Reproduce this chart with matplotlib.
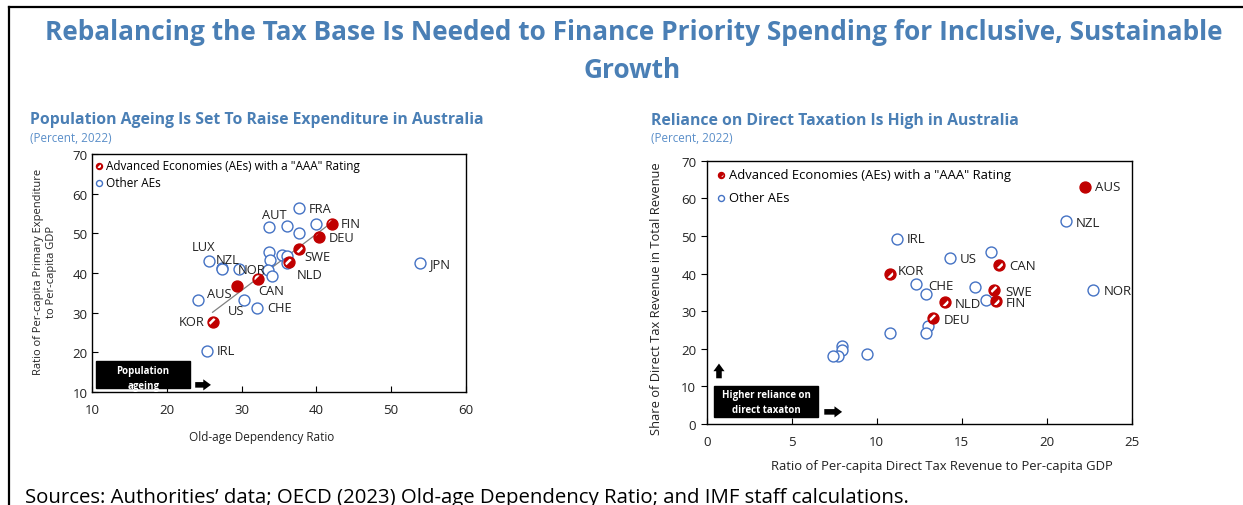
"""
Rebalancing the tax base - two scatter panels (ageing vs expenditure,
direct tax reliance) recreated with matplotlib.
"""

import matplotlib
matplotlib.use('Agg')
import matplotlib.pyplot as plt
from matplotlib.lines import Line2D
from matplotlib.patches import Rectangle

plt.rcParams['font.family'] = ['Open Sans', 'DejaVu Sans']
plt.rcParams['hatch.linewidth'] = 1.8

TITLE_BLUE = '#4a7fb5'
SUB_BLUE = '#5b8fc9'
RED = '#c00000'
BLUE = '#4472c4'

# ---- Left panel: old-age dependency vs expenditure ratio ----
left_names = ['FRA', 'AUT', '', '', 'FIN', '', 'DEU', 'SWE', '', '', '', '',
              'NLD', '', 'LUX', 'NZL', '', 'NOR', '', '', 'CAN', 'AUS', '',
              'US', 'CHE', 'KOR', 'IRL', 'JPN']
left_x = [37.7, 33.6, 36.1, 40.0, 42.1, 37.7, 40.4, 37.7, 33.6, 33.8, 35.4, 36.1,
          36.3, 36.1, 25.6, 27.4, 27.4, 29.6, 33.5, 34.1, 32.2, 29.4, 24.1,
          30.3, 32.1, 26.1, 25.3, 53.9]
left_y = [56.3, 51.7, 51.9, 52.3, 52.4, 50.0, 49.0, 46.0, 45.4, 43.4, 44.5, 44.4,
          42.7, 42.5, 42.9, 41.2, 40.9, 41.0, 40.8, 39.3, 38.5, 36.8, 33.3,
          33.3, 31.3, 27.7, 20.4, 42.4]
left_group = ['other', 'other', 'other', 'other', 'aaa', 'other', 'aaa', 'aaa',
              'other', 'other', 'other', 'other', 'aaa', 'other', 'other', 'other',
              'other', 'other', 'other', 'other', 'aaa', 'aus', 'other', 'other',
              'other', 'aaa', 'other', 'other']
left_trend_x = [26.1, 42.1]
left_trend_y = [30.1, 52.8]

# ---- Right panel: direct tax ratio vs share of direct tax ----
right_names = ['AUS', 'NZL', 'NOR', 'IRL', 'US', '', 'CAN', 'KOR', 'CHE', '',
               '', 'SWE', '', 'FIN', 'NLD', 'DEU', '', '', '', '', '', '', '', '']
right_x = [22.25, 21.1, 22.7, 11.2, 14.3, 16.7, 17.2, 10.75, 12.3, 12.9,
           15.8, 16.9, 16.4, 17.0, 14.0, 13.3, 13.0, 12.9, 10.75, 7.94,
           7.94, 7.73, 7.41, 9.41]
right_y = [63.1, 54.0, 35.5, 49.2, 44.0, 45.8, 42.25, 39.8, 37.2, 34.6,
           36.5, 35.7, 33.0, 32.6, 32.3, 28.2, 26.1, 24.1, 24.3, 20.8,
           19.75, 18.2, 18.1, 18.7]
right_group = ['aus', 'other', 'other', 'other', 'other', 'other', 'aaa', 'aaa',
               'other', 'other', 'other', 'aaa', 'other', 'aaa', 'aaa', 'aaa',
               'other', 'other', 'other', 'other', 'other', 'other', 'other', 'other']

# label offsets in points (dx, dy, ha)
left_offsets = {
    'FRA': (7, 0, 'left'), 'AUT': (4, 8.5, 'center'), 'FIN': (6, 0, 'left'),
    'DEU': (7, 0, 'left'), 'SWE': (4, -5.5, 'left'), 'NLD': (6, -9, 'left'),
    'LUX': (-4, 10.5, 'center'), 'NZL': (-5, 6, 'left'), 'NOR': (-1, 0, 'left'),
    'CAN': (0, -8, 'left'), 'AUS': (-4, -5.5, 'right'), 'US': (0, -8, 'right'),
    'CHE': (7, 0, 'left'), 'KOR': (-5.5, 0, 'right'), 'IRL': (7, 0, 'left'),
    'JPN': (7, 0, 'left'),
}
right_offsets = {
    'AUS': (7, 0, 'left'), 'NZL': (7, -1, 'left'), 'NOR': (8, 0, 'left'),
    'IRL': (7, 0, 'left'), 'US': (7, 0, 'left'), 'CAN': (7, 0, 'left'),
    'KOR': (6, 3, 'left'), 'CHE': (9, -1, 'left'), 'SWE': (8, -1, 'left'),
    'FIN': (7, -1, 'left'), 'NLD': (7, -1, 'left'), 'DEU': (8, -1, 'left'),
}


def draw_points(ax, names, xs, ys, groups, offsets, size=62, fsize=9.3):
    """Scatter the three marker groups and write country labels.

    Returns legend handles (aaa, other)."""
    other = [i for i, g in enumerate(groups) if g == 'other']
    aaa = [i for i, g in enumerate(groups) if g == 'aaa']
    aus = [i for i, g in enumerate(groups) if g == 'aus']

    h_other = ax.scatter([xs[i] for i in other], [ys[i] for i in other], s=size,
                         facecolors='white', edgecolors=BLUE, linewidths=1.0, zorder=3)
    ax_x = [xs[i] for i in aaa]
    ax_y = [ys[i] for i in aaa]
    # red disc with white swirl on top
    h_aaa = ax.scatter(ax_x, ax_y, s=size, facecolors=RED, edgecolors=RED,
                       linewidths=1.0, zorder=4)
    h_hatch = ax.scatter(ax_x, ax_y, s=size * 0.45, facecolors='none',
                         edgecolors='white', linewidths=0, hatch='//', zorder=4.5)
    ax.scatter([xs[i] for i in aus], [ys[i] for i in aus], s=size,
               color=RED, zorder=5)

    for n, x, y in zip(names, xs, ys):
        if not n:
            continue
        dx, dy, ha = offsets[n]
        ax.annotate(n, (x, y), xytext=(dx, dy), textcoords='offset points',
                    ha=ha, va='center', fontsize=fsize, color='#222222', zorder=6)
    return (h_aaa, h_hatch), h_other


def style_axes(ax, y_tick_dir):
    for s in ax.spines.values():
        s.set_color('black')
        s.set_linewidth(1.0)
    ax.tick_params(axis='x', direction='in', length=4, labelsize=9.5, pad=8,
                   labelcolor='#222222')
    ax.tick_params(axis='y', direction=y_tick_dir, length=4, labelsize=9.5,
                   labelcolor='#222222')


def add_legend(ax, handles, anchor, spacing, fsize):
    leg = ax.legend(list(handles),
                    ['Advanced Economies (AEs) with a "AAA" Rating', 'Other AEs'],
                    loc='upper left', bbox_to_anchor=anchor, frameon=False,
                    fontsize=fsize, markerscale=0.55, handletextpad=0.05,
                    handlelength=1.0, labelspacing=spacing, borderaxespad=0.3)
    return leg


def arrow(ax, start, end):
    ax.annotate('', xy=end, xytext=start, xycoords='axes fraction',
                arrowprops=dict(arrowstyle='simple,head_length=0.55,head_width=0.8,tail_width=0.4',
                                color='black', lw=0))


def black_box(ax, x0, y0, w, h, text, tx, ty):
    ax.add_patch(Rectangle((x0, y0), w, h, transform=ax.transAxes,
                           facecolor='black', edgecolor='black', zorder=7))
    ax.text(tx, ty, text, transform=ax.transAxes, ha='center', va='center',
            color='white', fontsize=7, fontweight='bold', linespacing=1.5, zorder=8)


fig = plt.figure(figsize=(12.43, 5.06), dpi=100)

# figure frame (top and left edges)
fig.add_artist(Line2D([9 / 1243, 9 / 1243], [0, 1 - 8 / 506], color='black', lw=1.6))
fig.add_artist(Line2D([9 / 1243, 1], [1 - 8 / 506, 1 - 8 / 506], color='black', lw=1.6))

fig.text(0.5097, 1 - 33 / 506,
         'Rebalancing the Tax Base Is Needed to Finance Priority Spending for Inclusive, Sustainable',
         ha='center', va='center', fontsize=18.9, fontweight='bold', color=TITLE_BLUE)
fig.text(0.5085, 1 - 71 / 506, 'Growth', ha='center', va='center',
         fontsize=18.9, fontweight='bold', color=TITLE_BLUE)

# ---- left panel ----
ax1 = fig.add_axes([0.0743, 0.2233, 0.3004, 0.4704])
ax1.plot(left_trend_x, left_trend_y, color='#808080', lw=0.9, zorder=2)
h1 = draw_points(ax1, left_names, left_x, left_y, left_group, left_offsets)
ax1.set_xlim(10, 60)
ax1.set_ylim(10, 70)
ax1.set_xticks(range(10, 61, 10))
ax1.set_yticks(range(10, 71, 10))
style_axes(ax1, 'in')
ax1.set_xlabel('Old-age Dependency Ratio', fontsize=8.5, color='#222222')
ax1.xaxis.set_label_coords(0.4545, -0.158)
ax1.set_ylabel('Ratio of Per-capita Primary Expenditure\nto Per-capita GDP',
               fontsize=8.0, color='#222222')
ax1.yaxis.set_label_coords(-0.096, 0.51)
add_legend(ax1, h1, (-0.02, 1.013), 0.3, 8.5)

black_box(ax1, 0.01, 0.017, 0.252, 0.113, 'Population\nageing', 0.136, 0.06)
arrow(ax1, (0.268, 0.03), (0.325, 0.03))

fig.text(30 / 1243, 1 - 120 / 506, 'Population Ageing Is Set To Raise Expenditure in Australia',
         ha='left', va='center', fontsize=11.3, fontweight='bold', color=TITLE_BLUE)
fig.text(30 / 1243, 1 - 138 / 506, '(Percent, 2022)', ha='left', va='center',
         fontsize=8.4, color=SUB_BLUE)

# ---- right panel ----
ax2 = fig.add_axes([0.5685, 0.1601, 0.3422, 0.5204])
h2 = draw_points(ax2, right_names, right_x, right_y, right_group, right_offsets, fsize=9.5)
ax2.set_xlim(0, 25)
ax2.set_ylim(0, 70)
ax2.set_xticks(range(0, 26, 5))
ax2.set_yticks(range(0, 71, 10))
style_axes(ax2, 'out')
ax2.set_xlabel('Ratio of Per-capita Direct Tax Revenue to Per-capita GDP',
               fontsize=9.4, color='#222222')
ax2.xaxis.set_label_coords(0.553, -0.133)
ax2.set_ylabel('Share of Direct Tax Revenue in Total Revenue', fontsize=9.3,
               color='#222222')
ax2.yaxis.set_label_coords(-0.103, 0.48)
add_legend(ax2, h2, (-0.002, 1.005), 0.75, 9.4)

black_box(ax2, 0.017, 0.027, 0.245, 0.117, 'Higher reliance on\ndirect taxaton', 0.14, 0.085)
arrow(ax2, (0.27, 0.046), (0.325, 0.046))
arrow(ax2, (0.029, 0.163), (0.029, 0.24))

fig.text(651 / 1243, 1 - 121 / 506, 'Reliance on Direct Taxation Is High in Australia',
         ha='left', va='center', fontsize=11.3, fontweight='bold', color=TITLE_BLUE)
fig.text(651 / 1243, 1 - 139 / 506, '(Percent, 2022)', ha='left', va='center',
         fontsize=8.4, color=SUB_BLUE)

fig.text(25 / 1243, 1 - 503 / 506,
         'Sources: Authorities\u2019 data; OECD (2023) Old-age Dependency Ratio; and IMF staff calculations.',
         ha='left', va='baseline', fontsize=14.7, color='black')

fig.savefig('out.png', dpi=100)
